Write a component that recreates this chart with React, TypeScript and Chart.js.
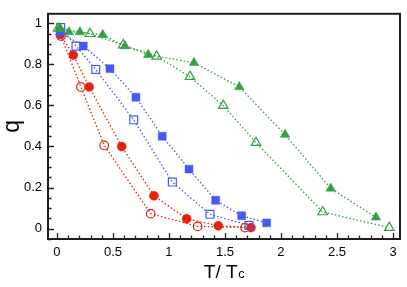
import React, { useEffect, useRef } from 'react';
import { Chart, registerables } from 'chart.js';

Chart.register(...registerables);

const FONT = '"Liberation Sans", Arial, Helvetica, sans-serif';

// Data (T/Tc, q)
const redFilledT = [0.03, 0.146, 0.288, 0.578, 0.866, 1.158, 1.44, 1.732];
const redFilledQ = [0.945, 0.845, 0.69, 0.4, 0.16, 0.048, 0.014, 0.005];

const redOpenT = [0.036, 0.214, 0.422, 0.837, 1.256, 1.679];
const redOpenQ = [0.938, 0.69, 0.405, 0.073, 0.011, 0.005];

const blueFilledT = [0.027, 0.235, 0.473, 0.705, 0.94, 1.179, 1.417, 1.649, 1.872];
const blueFilledQ = [0.957, 0.889, 0.779, 0.64, 0.45, 0.29, 0.138, 0.063, 0.028];

const blueOpenT = [0.033, 0.17, 0.346, 0.685, 1.03, 1.366, 1.714];
const blueOpenQ = [0.979, 0.889, 0.775, 0.53, 0.227, 0.07, 0.016];

const greenFilledT = [0.027, 0.107, 0.205, 0.408, 0.607, 0.815, 1.223, 1.628, 2.036, 2.444, 2.848];
const greenFilledQ = [0.977, 0.957, 0.957, 0.944, 0.889, 0.847, 0.808, 0.69, 0.458, 0.196, 0.055];

const greenOpenT = [0.01, 0.295, 0.592, 0.89, 1.188, 1.485, 1.777, 2.372, 2.967];
const greenOpenQ = [0.975, 0.949, 0.894, 0.839, 0.74, 0.599, 0.419, 0.081, 0.005];

const xTicks = [0, 0.5, 1, 1.5, 2, 2.5, 3];
const xTickLabels = ['0', '0.5', '1', '1.5', '2', '2.5', '3'];
const yTicks = [0, 0.2, 0.4, 0.6, 0.8, 1];
const yTickLabels = ['0', '0.2', '0.4', '0.6', '0.8', '1'];

const RED = '#e3220f';
const BLUE = '#4858f2';
const GREEN = '#34a043';

function pts(t: number[], q: number[]) {
  return t.map((v, i) => ({ x: v, y: q[i] }));
}

function series(t: number[], q: number[], color: string, style: string, filled: boolean, radius: number) {
  return {
    data: pts(t, q),
    showLine: true,
    borderColor: color,
    borderWidth: 1.3,
    borderDash: [1.5, 2.2],
    pointStyle: style,
    pointRadius: radius,
    pointHoverRadius: radius,
    pointBackgroundColor: filled ? color : 'rgba(0,0,0,0)',
    pointBorderColor: color,
    pointBorderWidth: filled ? 0.5 : 1.2,
    fill: false,
    tension: 0,
  };
}

const framePlugin = {
  id: 'frame',
  afterDraw(chart: any) {
    const { ctx, chartArea: a, scales } = chart;
    const x = scales.x;
    const y = scales.y;
    ctx.save();
    ctx.strokeStyle = '#222';
    ctx.lineWidth = 1.3;
    ctx.beginPath();
    for (let i = 0; i <= 30; i++) {
      const v = i / 10;
      const px = Math.round(x.getPixelForValue(v)) + 0.5;
      const len = i % 5 === 0 ? 6 : 3.5;
      ctx.moveTo(px, a.bottom);
      ctx.lineTo(px, a.bottom - len);
    }
    for (let i = -1; i <= 20; i++) {
      const v = i * 0.05;
      if (v < y.min || v > y.max) continue;
      const py = Math.round(y.getPixelForValue(v)) + 0.5;
      const len = i % 4 === 0 ? 6 : 3.5;
      ctx.moveTo(a.left, py);
      ctx.lineTo(a.left + len, py);
    }
    ctx.stroke();
    ctx.lineWidth = 2;
    ctx.strokeStyle = '#1e1e1e';
    ctx.strokeRect(a.left, a.top, a.right - a.left, a.bottom - a.top);

    // x title: T / Tc
    ctx.fillStyle = '#000';
    ctx.textBaseline = 'alphabetic';
    ctx.textAlign = 'left';
    const main = 'T/ T';
    ctx.font = `19px ${FONT}`;
    const w1 = ctx.measureText(main).width;
    ctx.font = `13px ${FONT}`;
    const w2 = ctx.measureText('c').width;
    const cx = (a.left + a.right) / 2;
    const start = cx - (w1 + w2) / 2;
    ctx.font = `19px ${FONT}`;
    ctx.fillText(main, start, 278);
    ctx.font = `13px ${FONT}`;
    ctx.fillText('c', start + w1 + 0.5, 278);

    // y title: q
    ctx.save();
    ctx.translate(19, (a.top + a.bottom) / 2);
    ctx.rotate(-Math.PI / 2);
    ctx.font = `23px ${FONT}`;
    ctx.textAlign = 'center';
    ctx.fillText('q', 0, 0);
    ctx.restore();
    ctx.restore();
  },
};

export default function App() {
  const ref = useRef<HTMLCanvasElement | null>(null);
  useEffect(() => {
    document.body.style.margin = '0';
    const canvas = ref.current;
    if (!canvas) return;
    const chart = new Chart(canvas, {
      type: 'scatter',
      data: {
        datasets: [
          series(greenOpenT, greenOpenQ, GREEN, 'triangle', false, 5.5),
          series(greenFilledT, greenFilledQ, GREEN, 'triangle', true, 5.5),
          series(blueOpenT, blueOpenQ, BLUE, 'rect', false, 5.6),
          series(blueFilledT, blueFilledQ, BLUE, 'rect', true, 5.6),
          series(redOpenT, redOpenQ, RED, 'circle', false, 4.3),
          series(redFilledT, redFilledQ, RED, 'circle', true, 4.5),
        ] as any,
      },
      options: {
        animation: false,
        responsive: false,
        devicePixelRatio: 1,
        layout: { padding: { left: 0, right: 7, top: 6, bottom: 0 } },
        plugins: { legend: { display: false }, tooltip: { enabled: false } },
        scales: {
          x: {
            type: 'linear',
            min: -0.08,
            max: 3.0625,
            afterBuildTicks: (s: any) => {
              s.ticks = xTicks.map((v) => ({ value: v }));
            },
            afterFit: (s: any) => {
              s.height = 48;
            },
            ticks: {
              autoSkip: false,
              maxRotation: 0,
              padding: 6,
              color: '#000',
              font: { family: FONT, size: 13 },
              callback: (_v: any, i: number) => xTickLabels[i],
            },
            grid: { display: true, drawOnChartArea: false, drawTicks: false, color: 'rgba(0,0,0,0)' },
            border: { display: false },
          },
          y: {
            type: 'linear',
            min: -0.0504,
            max: 1.0461,
            afterBuildTicks: (s: any) => {
              s.ticks = yTicks.map((v) => ({ value: v }));
            },
            afterFit: (s: any) => {
              s.width = 48;
            },
            ticks: {
              autoSkip: false,
              padding: 6,
              color: '#000',
              font: { family: FONT, size: 13 },
              callback: (_v: any, i: number) => yTickLabels[i],
            },
            grid: { display: true, drawOnChartArea: false, drawTicks: false, color: 'rgba(0,0,0,0)' },
            border: { display: false },
          },
        },
      } as any,
      plugins: [framePlugin],
    });
    return () => chart.destroy();
  }, []);
  return (
    <div style={{ width: 407, height: 287 }}>
      <canvas ref={ref} width={407} height={287} style={{ display: 'block' }} />
    </div>
  );
}
